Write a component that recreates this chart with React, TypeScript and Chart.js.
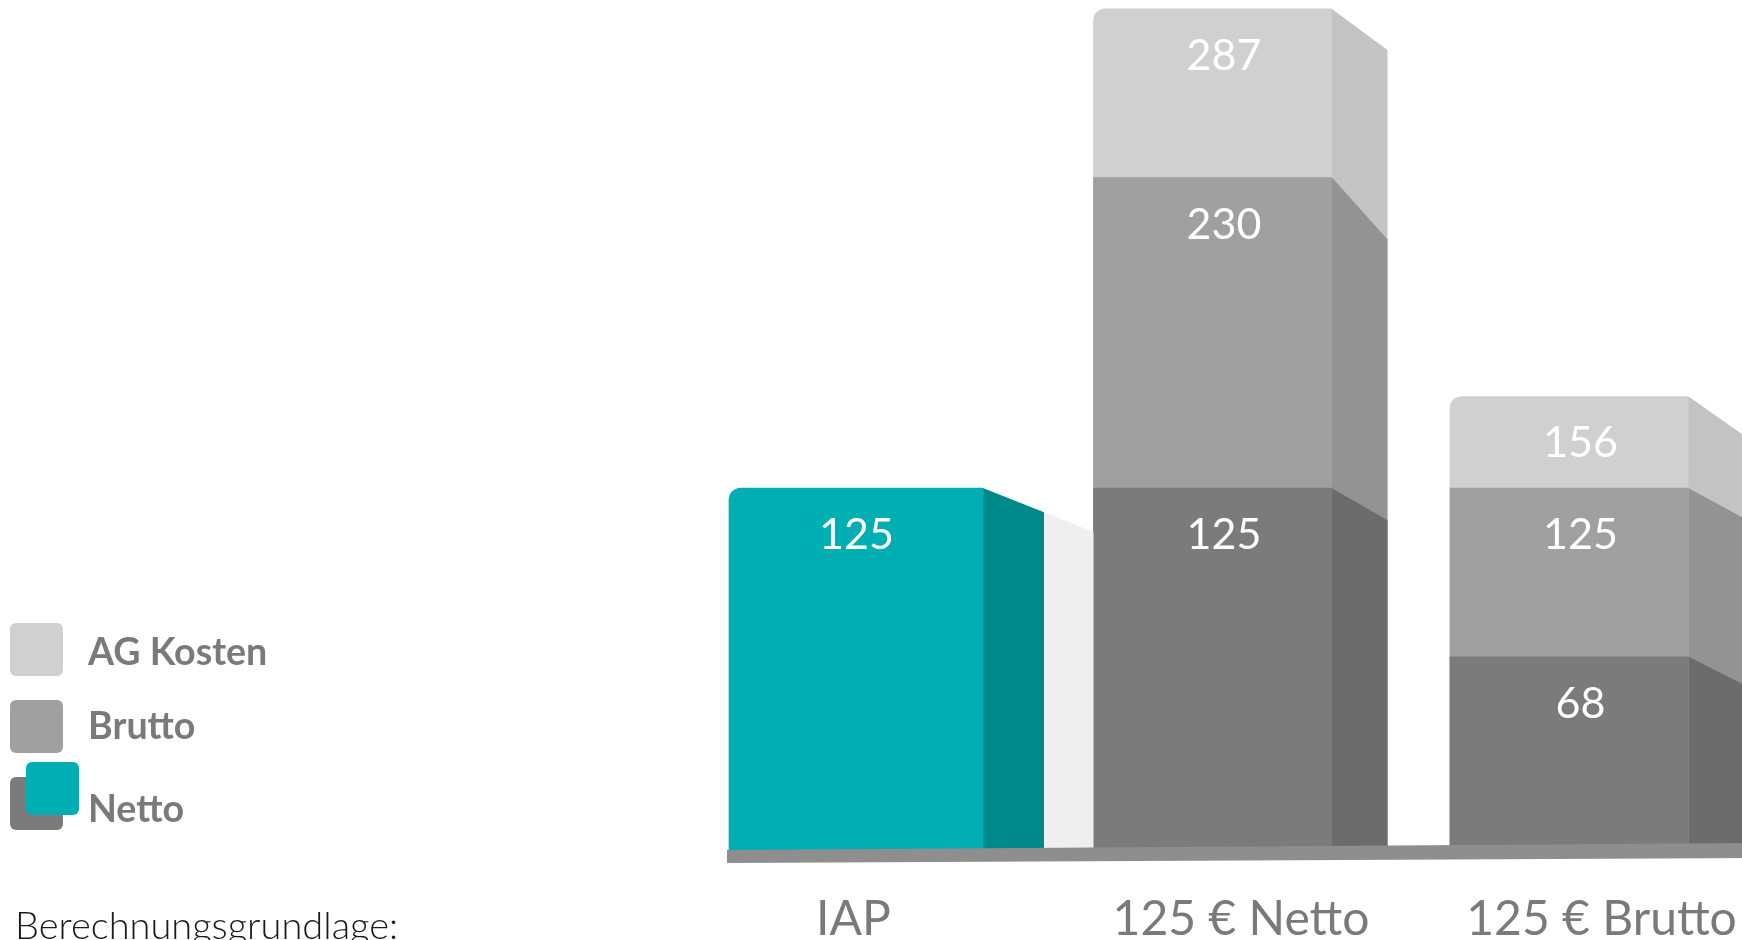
import React, { useEffect, useRef } from "react";
import { Chart, registerables } from "chart.js";

Chart.register(...registerables);

// ---- data ----
const categories = ["IAP", "125 € Netto", "125 € Brutto"];
const netto = [125, 125, 68];
const brutto = [null, 230, 125];
const agKosten = [null, 287, 156];
const legendLabels = ["AG Kosten", "Brutto", "Netto"];
const yMax = 290;

// ---- style ----
const COLORS = {
  teal: "#00aeb3",
  tealSide: "#00898a",
  netto: "#7b7b7b",
  nettoSide: "#6c6c6c",
  brutto: "#a0a0a0",
  bruttoSide: "#939393",
  ag: "#d0d0d0",
  agSide: "#c3c3c3",
  band: "#8e8e8e",
  shadow: "#efefef",
  text: "#7a7a7a",
};
const CANVAS_W = 1760;
const CANVAS_H = 940;
const PLOT_BOTTOM = 858;
const catLabelShift = [-3, 28, 32];

const threeD = {
  id: "threeD",
  afterDatasetsDraw(chart: any) {
    const ctx = chart.ctx;
    const dsets = chart.data.datasets;
    ctx.save();
    // side faces, back to front
    for (let d = dsets.length - 1; d >= 0; d--) {
      const ds: any = dsets[d];
      const meta = chart.getDatasetMeta(d);
      meta.data.forEach((el: any, i: number) => {
        const v = ds.data[i];
        if (v == null) return;
        const { x, y, base, width } = el.getProps(["x", "y", "base", "width"], true);
        const xr = x + width / 2;
        const sw = ds.sideWidth;
        const drop = ds.sideDrop[i];
        if (ds.shadow && i + 1 < categories.length) {
          const nm = chart.getDatasetMeta(1).data[i + 1];
          const np = nm.getProps(["x", "width"], true);
          const left = np.x - np.width / 2;
          const slope = drop / sw;
          ctx.fillStyle = COLORS.shadow;
          ctx.beginPath();
          ctx.moveTo(xr + sw, y + drop);
          ctx.lineTo(left, y + drop + (left - xr - sw) * slope);
          ctx.lineTo(left, base);
          ctx.lineTo(xr + sw, base);
          ctx.closePath();
          ctx.fill();
        }
        ctx.fillStyle = ds.sideColor;
        ctx.beginPath();
        ctx.moveTo(xr - 0.5, y);
        ctx.lineTo(xr + sw, y + drop);
        ctx.lineTo(xr + sw, base);
        ctx.lineTo(xr - 0.5, base);
        ctx.closePath();
        ctx.fill();
      });
    }
    // base band (slightly tilted)
    const first = chart.getDatasetMeta(0).data[0].getProps(["x", "width"], true);
    const bx0 = first.x - first.width / 2 - 2;
    const bx1 = chart.width + 5;
    const run = bx1 - bx0;
    ctx.fillStyle = COLORS.band;
    ctx.beginPath();
    ctx.moveTo(bx0, 850);
    ctx.lineTo(bx1, 850 - (run * 7) / 1015);
    ctx.lineTo(bx1, 863 - (run * 5) / 1015);
    ctx.lineTo(bx0, 863);
    ctx.closePath();
    ctx.fill();

    // value labels
    ctx.fillStyle = "#ffffff";
    ctx.font = "43px Lato";
    ctx.textAlign = "center";
    ctx.textBaseline = "alphabetic";
    dsets.forEach((ds: any, d: number) => {
      const meta = chart.getDatasetMeta(d);
      meta.data.forEach((el: any, i: number) => {
        const v = ds.data[i];
        if (v == null) return;
        const { x, y } = el.getProps(["x", "y"], true);
        ctx.fillText(String(v), x + ds.labelShift, y + 61);
      });
    });

    // category labels
    const xs = chart.scales.x;
    ctx.fillStyle = COLORS.text;
    ctx.font = "48px Lato";
    categories.forEach((c, i) => {
      ctx.fillText(c, xs.getPixelForValue(i) + catLabelShift[i], 935);
    });
    ctx.restore();
  },
};

export default function App() {
  const ref = useRef<HTMLCanvasElement | null>(null);
  useEffect(() => {
    if (!ref.current) return;
    const datasets: any[] = [
      {
        label: categories[0],
        data: netto.map((v, i) => (i === 0 ? v : null)),
        backgroundColor: COLORS.teal,
        barThickness: 255,
        borderRadius: { topLeft: 12, topRight: 2, bottomLeft: 0, bottomRight: 0 },
        sideColor: COLORS.tealSide,
        sideWidth: 60,
        sideDrop: [24, 0, 0],
        labelShift: 0,
        shadow: true,
      },
      {
        label: legendLabels[2],
        data: netto.map((v, i) => (i === 0 ? null : v)),
        backgroundColor: COLORS.netto,
        barThickness: 239,
        sideColor: COLORS.nettoSide,
        sideWidth: 55,
        sideDrop: [0, 32, 28],
        labelShift: 11,
      },
      {
        label: legendLabels[1],
        data: brutto,
        backgroundColor: COLORS.brutto,
        barThickness: 239,
        sideColor: COLORS.bruttoSide,
        sideWidth: 55,
        sideDrop: [0, 62, 30],
        labelShift: 11,
      },
      {
        label: legendLabels[0],
        data: agKosten,
        backgroundColor: COLORS.ag,
        barThickness: 239,
        borderRadius: { topLeft: 12, topRight: 2, bottomLeft: 0, bottomRight: 0 },
        sideColor: COLORS.agSide,
        sideWidth: 55,
        sideDrop: [0, 41, 39],
        labelShift: 11,
      },
    ];
    const chart = new Chart(ref.current, {
      type: "bar",
      data: { labels: categories, datasets },
      options: {
        animation: false,
        responsive: false,
        layout: { padding: { left: 678.25, right: CANVAS_W - 1747.75, top: 0, bottom: CANVAS_H - PLOT_BOTTOM } },
        datasets: { bar: { grouped: false } } as any,
        scales: {
          x: { display: false },
          y: { display: false, min: 0, max: yMax },
        },
        plugins: { legend: { display: false }, tooltip: { enabled: false } },
      },
      plugins: [threeD],
    });
    return () => chart.destroy();
  }, []);

  const sq: React.CSSProperties = { position: "absolute", width: 53, height: 53, borderRadius: 6 };
  const lt: React.CSSProperties = {
    position: "absolute",
    left: 88,
    fontFamily: "Lato",
    fontWeight: 700,
    fontSize: 37.6,
    lineHeight: "37.6px",
    color: COLORS.text,
    whiteSpace: "nowrap",
  };
  return (
    <div style={{ position: "fixed", left: 0, top: 0, width: 1742, height: 940, overflow: "hidden", background: "#fff" }}>
      <canvas ref={ref} width={CANVAS_W} height={CANVAS_H} style={{ position: "absolute", left: 0, top: 0 }} />
      <div style={{ ...sq, left: 10, top: 623, background: COLORS.ag }} />
      <div style={{ ...lt, top: 632 }}>{legendLabels[0]}</div>
      <div style={{ ...sq, left: 10, top: 700, background: COLORS.brutto }} />
      <div style={{ ...lt, top: 706 }}>{legendLabels[1]}</div>
      <div style={{ ...sq, left: 10, top: 777, background: COLORS.netto }} />
      <div style={{ ...sq, left: 26, top: 762, background: COLORS.teal }} />
      <div style={{ ...lt, top: 789 }}>{legendLabels[2]}</div>
      <div
        style={{
          position: "absolute",
          left: 15,
          top: 905,
          fontFamily: "Lato",
          fontWeight: 300,
          fontSize: 38,
          lineHeight: "38px",
          color: "#1a1a1a",
          whiteSpace: "nowrap",
        }}
      >
        Berechnungsgrundlage:
      </div>
    </div>
  );
}
